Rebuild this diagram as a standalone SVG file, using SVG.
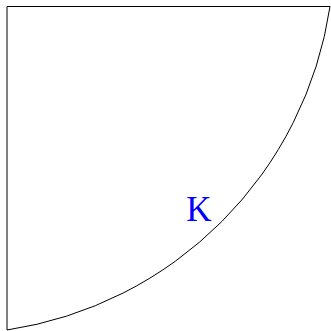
<svg xmlns="http://www.w3.org/2000/svg" width="331" height="331" viewBox="0 0 331 331">
<style>
.edge{fill:none;stroke:#000;stroke-width:1}
.lbl{font-family:"Liberation Serif","Times New Roman",serif;font-size:35px;fill:#0000ff}
</style>
<rect width="331" height="331" fill="#fff"/>
<g id="shape">
<path class="edge" d="M7,330 L7,6.5 L330,6.5 A384.2,384.2 0 0 1 7,330"/>
</g>
<g id="label">
<text class="lbl" x="199" y="221" text-anchor="middle">K</text>
</g>
</svg>
